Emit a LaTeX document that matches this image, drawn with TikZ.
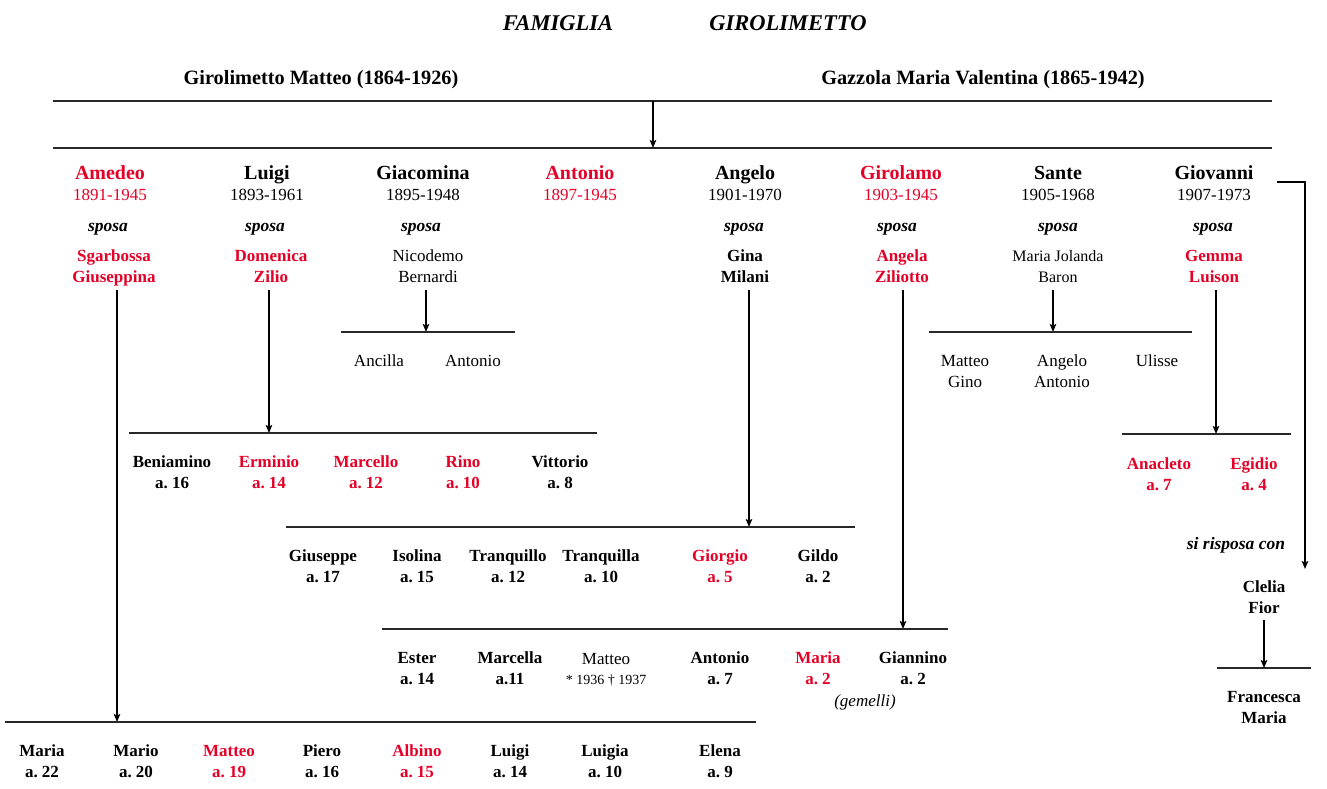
\documentclass[tikz,border=0pt]{standalone}
\usepackage{fontspec}
\setmainfont{Liberation Serif}
\usetikzlibrary{arrows.meta}
\frenchspacing
\definecolor{rd}{RGB}{228,0,38}
\definecolor{ln}{RGB}{40,40,40}
\tikzset{
 every node/.style={inner sep=0pt, anchor=base, align=center},
 ttl/.style={font=\fontsize{22.5}{27}\selectfont\bfseries\itshape},
 par/.style={font=\fontsize{20.3}{24}\selectfont\bfseries},
 nm/.style={font=\fontsize{20}{24}\selectfont\bfseries},
 dt/.style={font=\fontsize{17}{21}\selectfont},
 sp/.style={font=\fontsize{17.5}{21}\selectfont\bfseries\itshape},
 bd/.style={font=\fontsize{17}{21}\selectfont\bfseries},
 rg/.style={font=\fontsize{17}{21}\selectfont},
 sm/.style={font=\fontsize{14}{17}\selectfont},
 it/.style={font=\fontsize{17}{21}\selectfont\itshape},
 hl/.style={draw=ln, line width=1.6pt},
 arr/.style={draw=black, line width=1.2pt, -{Stealth[length=8pt,width=6.5pt,inset=1.5pt]}},
}
\begin{document}
\begin{tikzpicture}[x=1pt,y=-1pt]
\useasboundingbox (0,0) rectangle (1327,788);
% title and parents
\node[ttl] (t1) at (558,30) {FAMIGLIA};
\node[ttl] (t2) at (788,30) {GIROLIMETTO};
\node[par] (p1) at (321,84) {Girolimetto Matteo (1864-1926)};
\node[par] (p2) at (983,84) {Gazzola Maria Valentina (1865-1942)};
\coordinate (L0a) at (53,101); \coordinate (L0b) at (1272,101);
\coordinate (L1a) at (53,148); \coordinate (L1b) at (1272,148);
\coordinate (m0) at (653,101); \coordinate (m1) at (653,148);
\draw[hl] (L0a) -- (L0b);
\draw[hl] (L1a) -- (L1b);
\draw[arr] (m0) -- (m1);
% generation 1
\node[nm,rd] (n1) at (110,179) {Amedeo};
\node[dt,rd] (d1) at (110,200) {1891-1945};
\node[sp] (s1) at (108,231) {sposa};
\node[bd,rd] (w1) at (114,282) {Sgarbossa\\Giuseppina};
\node[nm] (n2) at (267,179) {Luigi};
\node[dt] (d2) at (267,200) {1893-1961};
\node[sp] (s2) at (265,231) {sposa};
\node[bd,rd] (w2) at (271,282) {Domenica\\Zilio};
\node[nm] (n3) at (423,179) {Giacomina};
\node[dt] (d3) at (423,200) {1895-1948};
\node[sp] (s3) at (421,231) {sposa};
\node[rg] (w3) at (428,282) {Nicodemo\\Bernardi};
\node[nm,rd] (n4) at (580,179) {Antonio};
\node[dt,rd] (d4) at (580,200) {1897-1945};
\node[nm] (n5) at (745,179) {Angelo};
\node[dt] (d5) at (745,200) {1901-1970};
\node[sp] (s5) at (744,231) {sposa};
\node[bd] (w5) at (745,282) {Gina\\Milani};
\node[nm,rd] (n6) at (901,179) {Girolamo};
\node[dt,rd] (d6) at (901,200) {1903-1945};
\node[sp] (s6) at (897,231) {sposa};
\node[bd,rd] (w6) at (902,282) {Angela\\Ziliotto};
\node[nm] (n7) at (1058,179) {Sante};
\node[dt] (d7) at (1058,200) {1905-1968};
\node[sp] (s7) at (1058,231) {sposa};
\node[rg,font=\fontsize{16}{21}\selectfont] (w7) at (1058,282) {Maria Jolanda\\Baron};
\node[nm] (n8) at (1214,179) {Giovanni};
\node[dt] (d8) at (1214,200) {1907-1973};
\node[sp] (s8) at (1213,231) {sposa};
\node[bd,rd] (w8) at (1214,282) {Gemma\\Luison};
% connectors from couples
\coordinate (a1t) at (117,290); \coordinate (a1b) at (117,722);
\coordinate (a2t) at (269,290); \coordinate (a2b) at (269,433);
\coordinate (a3t) at (426,290); \coordinate (a3b) at (426,332);
\coordinate (a5t) at (749,290); \coordinate (a5b) at (749,527);
\coordinate (a6t) at (903,290); \coordinate (a6b) at (903,629);
\coordinate (a7t) at (1053,290); \coordinate (a7b) at (1053,332);
\coordinate (a8t) at (1216,290); \coordinate (a8b) at (1216,434);
\draw[arr] (a1t) -- (a1b);
\draw[arr] (a2t) -- (a2b);
\draw[arr] (a3t) -- (a3b);
\draw[arr] (a5t) -- (a5b);
\draw[arr] (a6t) -- (a6b);
\draw[arr] (a7t) -- (a7b);
\draw[arr] (a8t) -- (a8b);
% horizontal lines
\draw[hl] (5,722) -- (756,722);
\draw[hl] (129,433) -- (597,433);
\draw[hl] (341,332) -- (515,332);
\draw[hl] (286,527) -- (855,527);
\draw[hl] (382,629) -- (948,629);
\draw[hl] (929,332) -- (1192,332);
\draw[hl] (1122,434) -- (1291,434);
\draw[hl] (1217,668) -- (1311,668);
% Giacomina children
\node[rg] (c31) at (379,366) {Ancilla};
\node[rg] (c32) at (473,366) {Antonio};
% Sante children
\node[rg] (c71) at (965,387) {Matteo\\Gino};
\node[rg] (c72) at (1062,387) {Angelo\\Antonio};
\node[rg] (c73) at (1157,366) {Ulisse};
% Luigi children
\node[bd] (c21) at (172,488) {Beniamino\\a. 16};
\node[bd,rd] (c22) at (269,488) {Erminio\\a. 14};
\node[bd,rd] (c23) at (366,488) {Marcello\\a. 12};
\node[bd,rd] (c24) at (463,488) {Rino\\a. 10};
\node[bd] (c25) at (560,488) {Vittorio\\a. 8};
% Giovanni children
\node[bd,rd] (c81) at (1159,490) {Anacleto\\a. 7};
\node[bd,rd] (c82) at (1254,490) {Egidio\\a. 4};
% Angelo children
\node[bd] (c51) at (323,582) {Giuseppe\\a. 17};
\node[bd] (c52) at (417,582) {Isolina\\a. 15};
\node[bd] (c53) at (508,582) {Tranquillo\\a. 12};
\node[bd] (c54) at (601,582) {Tranquilla\\a. 10};
\node[bd,rd] (c55) at (720,582) {Giorgio\\a. 5};
\node[bd] (c56) at (818,582) {Gildo\\a. 2};
% Girolamo children
\node[bd] (c61) at (417,684) {Ester\\a. 14};
\node[bd] (c62) at (510,684) {Marcella\\a.11};
\node[rg] (c63) at (606,664) {Matteo};
\node[sm] (c63b) at (606,684) {* 1936 † 1937};
\node[bd] (c64) at (720,684) {Antonio\\a. 7};
\node[bd,rd] (c65) at (818,684) {Maria\\a. 2};
\node[bd] (c66) at (913,684) {Giannino\\a. 2};
\node[it] (gem) at (865,706) {(gemelli)};
% Amedeo children
\node[bd] (c11) at (42,777) {Maria\\a. 22};
\node[bd] (c12) at (136,777) {Mario\\a. 20};
\node[bd,rd] (c13) at (229,777) {Matteo\\a. 19};
\node[bd] (c14) at (322,777) {Piero\\a. 16};
\node[bd,rd] (c15) at (417,777) {Albino\\a. 15};
\node[bd] (c16) at (510,777) {Luigi\\a. 14};
\node[bd] (c17) at (605,777) {Luigia\\a. 10};
\node[bd] (c18) at (720,777) {Elena\\a. 9};
% Giovanni second marriage
\coordinate (g0) at (1277,182);
\coordinate (g1) at (1305,182);
\coordinate (g2) at (1305,569);
\draw[arr] (g0) -- (g1) -- (g2);
\node[sp] (rsp) at (1236,549) {si risposa con};
\node[bd] (cf) at (1264,613) {Clelia\\Fior};
\coordinate (cft) at (1264,620); \coordinate (cfb) at (1264,668);
\draw[arr] (cft) -- (cfb);
\node[bd] (fm) at (1264,723) {Francesca\\Maria};
\end{tikzpicture}
\end{document}
